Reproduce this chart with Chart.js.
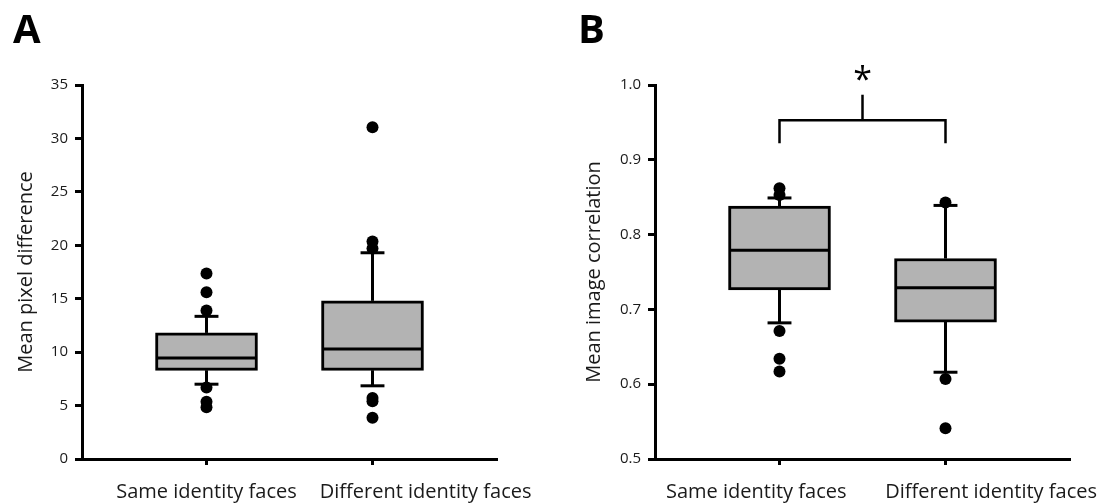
<!DOCTYPE html>
<html>
<head>
<meta charset="utf-8">
<script src="https://cdn.jsdelivr.net/npm/chart.js@4.4.1/dist/chart.umd.min.js"></script>
<style>
  html, body { margin: 0; padding: 0; background: #fff; }
  .panel { position: absolute; top: 0; width: 554px; height: 504px; }
</style>
</head>
<body>
<div class="panel" style="left:0"><canvas id="chartA" width="554" height="504"></canvas></div>
<div class="panel" style="left:554px"><canvas id="chartB" width="554" height="504"></canvas></div>
<script>
const categories = ['Same identity faces', 'Different identity faces'];

// A: mean pixel difference
const pixQ1 = [8.3, 8.3];
const pixMedian = [9.45, 10.3];
const pixQ3 = [11.8, 14.8];
const pixLow = [7.0, 6.85];
const pixHigh = [13.35, 19.3];
const pixOutliers = [
  [17.35, 15.6, 13.9, 6.7, 5.35, 4.85],
  [31.05, 20.35, 19.7, 5.7, 5.4, 3.85]
];
const pixTicks = { min: 0, max: 35, step: 5 };

// B: mean image correlation
const corrQ1 = [0.726, 0.683];
const corrMedian = [0.779, 0.729];
const corrQ3 = [0.838, 0.768];
const corrLow = [0.682, 0.616];
const corrHigh = [0.849, 0.839];
const corrOutliers = [
  [0.862, 0.853, 0.671, 0.634, 0.617],
  [0.843, 0.607, 0.541]
];
const corrTicks = { min: 0.5, max: 1.0, step: 0.1 };

// significance bracket between the two groups
const bracketTop = 0.953;
const bracketLegEnd = 0.922;
const bracketStemEnd = 0.987;

Chart.defaults.font.family = '"Open Sans", sans-serif';
Chart.defaults.color = '#1a1a1a';

const BOX_HALF = 0.30;   // half box width in x units
const CAP_HALF = 0.072;  // half whisker cap width

function seg(x0, y0, x1, y1, width) {
  return {
    type: 'line',
    data: [{ x: x0, y: y0 }, { x: x1, y: y1 }],
    borderColor: '#000',
    borderWidth: width || 3,
    borderCapStyle: 'butt',
    pointRadius: 0,
    fill: false,
    order: 2
  };
}

function boxDatasets(q1, med, q3, lo, hi, outliers) {
  const sets = [{
    type: 'bar',
    data: categories.map((c, i) => ({ x: i, y: [q1[i], q3[i]] })),
    backgroundColor: '#b3b3b3',
    borderColor: '#000',
    borderWidth: 3,
    borderSkipped: false,
    barThickness: 102,
    order: 3
  }];
  categories.forEach((c, i) => {
    sets.push(seg(i, q3[i], i, hi[i]));
    sets.push(seg(i, q1[i], i, lo[i]));
    sets.push(seg(i - CAP_HALF, hi[i], i + CAP_HALF, hi[i]));
    sets.push(seg(i - CAP_HALF, lo[i], i + CAP_HALF, lo[i]));
    sets.push(seg(i - BOX_HALF, med[i], i + BOX_HALF, med[i]));
  });
  sets.push({
    type: 'scatter',
    data: outliers.flatMap((vals, i) => vals.map(v => ({ x: i, y: v }))),
    pointRadius: 6,
    pointBackgroundColor: '#000',
    pointBorderWidth: 0,
    order: 1
  });
  return sets;
}

const panelText = {
  id: 'panelText',
  afterDraw(chart, args, opts) {
    const ctx = chart.ctx;
    ctx.save();
    ctx.fillStyle = '#000';
    ctx.font = 'bold 40px "Open Sans", sans-serif';
    ctx.textAlign = 'left';
    ctx.textBaseline = 'alphabetic';
    ctx.fillText(opts.letter, opts.letterX, 43);
    if (opts.star) {
      const x = chart.scales.x.getPixelForValue(0.5);
      const y = chart.scales.y.getPixelForValue(bracketStemEnd);
      ctx.font = '34px "Open Sans", sans-serif';
      ctx.textAlign = 'center';
      ctx.fillText('*', x, y - 4);
    }
    ctx.restore();
  }
};

function makeChart(id, datasets, ticks, title, yWidth, padLeft, opts, decimals, labelAt) {
  return new Chart(document.getElementById(id), {
    type: 'bar',
    data: { datasets },
    plugins: [panelText],
    options: {
      responsive: false,
      animation: false,
      layout: { padding: { left: padLeft, right: 554 - padLeft - yWidth - 415, top: 85, bottom: 0 } },
      plugins: {
        legend: { display: false },
        tooltip: { enabled: false },
        panelText: opts
      },
      scales: {
        // axis line and tick marks at the two groups
        x: {
          type: 'linear',
          min: -0.75,
          max: 1.75,
          offset: false,
          weight: 0,
          afterBuildTicks: s => { s.ticks = categories.map((c, i) => ({ value: i })); },
          afterFit: s => { s.height = 8; s.paddingLeft = 0; s.paddingRight = 0; },
          ticks: { display: false },
          grid: { offset: false, drawOnChartArea: false, drawTicks: true, tickLength: 6, tickWidth: 3, tickColor: '#000' },
          border: { display: true, color: '#000', width: 3 }
        },
        // group names
        x2: {
          type: 'linear',
          position: 'bottom',
          min: -0.75,
          max: 1.75,
          offset: false,
          weight: 1,
          afterBuildTicks: s => { s.ticks = labelAt.map(v => ({ value: v })); },
          afterFit: s => { s.height = 37; s.paddingLeft = 0; s.paddingRight = 0; },
          ticks: {
            autoSkip: false,
            maxRotation: 0,
            padding: 13,
            font: { size: 20 },
            callback: (v, i) => categories[i]
          },
          grid: { display: false, drawTicks: false },
          border: { display: false }
        },
        y: {
          min: ticks.min,
          max: ticks.max,
          afterBuildTicks: s => {
            const out = [];
            for (let v = ticks.min; v <= ticks.max + 1e-9; v += ticks.step) out.push({ value: +v.toFixed(3) });
            s.ticks = out;
          },
          afterFit: s => { s.width = yWidth; },
          ticks: {
            padding: 7,
            font: { size: 15 },
            callback: v => v.toFixed(decimals)
          },
          title: { display: true, text: title, font: { size: 20 }, padding: 0 },
          grid: { drawOnChartArea: false, drawTicks: true, tickLength: 7, tickWidth: 3, tickColor: '#000' },
          border: { display: true, color: '#000', width: 3 }
        }
      }
    }
  });
}

makeChart('chartA',
  boxDatasets(pixQ1, pixMedian, pixQ3, pixLow, pixHigh, pixOutliers),
  pixTicks, 'Mean pixel difference', 68, 14, { letter: 'A', letterX: 13 }, 0, [0.0, 1.32]);

const bDatasets = boxDatasets(corrQ1, corrMedian, corrQ3, corrLow, corrHigh, corrOutliers);
bDatasets.push({
  type: 'line',
  data: [
    { x: 0, y: bracketLegEnd }, { x: 0, y: bracketTop },
    { x: 1, y: bracketTop }, { x: 1, y: bracketLegEnd }
  ],
  borderColor: '#000', borderWidth: 2.5, borderJoinStyle: 'miter', pointRadius: 0, fill: false, order: 2
});
bDatasets.push(seg(0.5, bracketTop, 0.5, bracketStemEnd, 2.5));

makeChart('chartB', bDatasets, corrTicks, 'Mean image correlation', 73, 28,
  { letter: 'B', letterX: 24, star: true }, 1, [-0.14, 1.275]);
</script>
</body>
</html>
